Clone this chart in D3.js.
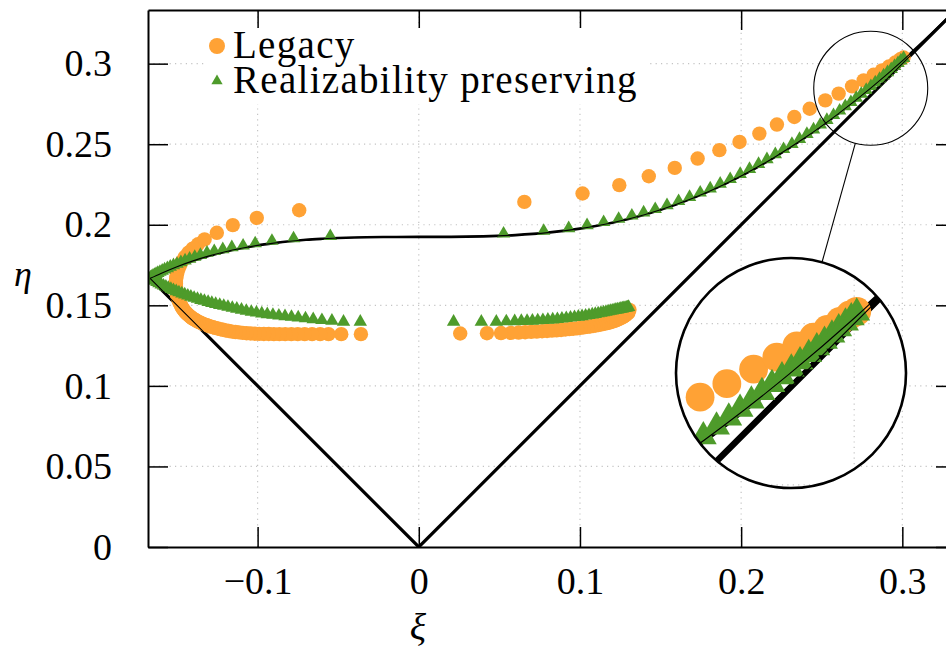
<!DOCTYPE html>
<html>
<head>
<meta charset="utf-8">
<script src="https://cdn.jsdelivr.net/npm/d3@7"></script>
<style>
  body { margin: 0; background: #fff; }
  svg { display: block; }
  svg text { font-family: "Liberation Serif", "Times New Roman", "DejaVu Serif", serif; }
</style>
</head>
<body>
<svg id="chart" width="946" height="658"></svg>
<script>
// Tick values
const xTicks = [-0.1, 0, 0.1, 0.2, 0.3];
const yTicks = [0, 0.05, 0.1, 0.15, 0.2, 0.25, 0.3];

// Lumley triangle straight edges (xi, eta)
const lumleyEdges = [[-0.1667, 0.1667], [0, 0], [0.3333, 0.3333]];

// Two-component limit curve (xi, eta)
const boundary = [
  [-0.1667, 0.1667], [-0.16, 0.1698], [-0.15, 0.1740], [-0.14, 0.1776], [-0.13, 0.1807],
  [-0.12, 0.1833], [-0.11, 0.1854], [-0.10, 0.1872], [-0.09, 0.1886], [-0.08, 0.1898],
  [-0.07, 0.1907], [-0.06, 0.1913], [-0.04, 0.1921], [-0.02, 0.1924], [0, 0.1925],
  [0.02, 0.1925], [0.04, 0.1928], [0.06, 0.1936], [0.08, 0.1951], [0.10, 0.1976],
  [0.12, 0.2012], [0.14, 0.2062], [0.16, 0.2127], [0.18, 0.2207], [0.20, 0.2303],
  [0.22, 0.2415], [0.24, 0.2543], [0.26, 0.2687], [0.28, 0.2845], [0.30, 0.3017],
  [0.32, 0.3203], [0.3333, 0.3333]
];

// Legacy series
const legacyLower = [
  [0.1307, 0.1472], [0.1300, 0.1453], [0.1292, 0.1446], [0.1283, 0.1439], [0.1274, 0.1433],
  [0.1265, 0.1427], [0.1256, 0.1422], [0.1246, 0.1417], [0.1236, 0.1412], [0.1226, 0.1408],
  [0.1215, 0.1404], [0.1204, 0.1400], [0.1193, 0.1397], [0.1181, 0.1393], [0.1169, 0.1390],
  [0.1156, 0.1387], [0.1143, 0.1384], [0.1129, 0.1381], [0.1114, 0.1378], [0.1098, 0.1375],
  [0.1081, 0.1372], [0.1063, 0.1369], [0.1044, 0.1366], [0.1024, 0.1363], [0.1003, 0.1360],
  [0.0981, 0.1357], [0.0958, 0.1355], [0.0934, 0.1352], [0.0909, 0.1350], [0.0883, 0.1347],
  [0.0855, 0.1345], [0.0826, 0.1343], [0.0796, 0.1341], [0.0765, 0.1339], [0.0732, 0.1337],
  [0.0697, 0.1335], [0.0660, 0.1333], [0.0620, 0.1331], [0.0572, 0.1329], [0.0510, 0.1328],
  [0.0423, 0.1327], [0.0257, 0.1325]
];
const legacyLeft = [
  [-0.0359, 0.1321], [-0.0481, 0.1321], [-0.0560, 0.1321], [-0.0612, 0.1321], [-0.0662, 0.1321],
  [-0.0708, 0.1321], [-0.0751, 0.1321], [-0.0791, 0.1321], [-0.0829, 0.1321], [-0.0865, 0.1321],
  [-0.0899, 0.1321], [-0.0931, 0.1322], [-0.0961, 0.1322], [-0.0990, 0.1323], [-0.1017, 0.1324],
  [-0.1043, 0.1325], [-0.1068, 0.1327], [-0.1092, 0.1329], [-0.1115, 0.1332], [-0.1137, 0.1334],
  [-0.1158, 0.1337], [-0.1178, 0.1341], [-0.1197, 0.1344], [-0.1215, 0.1348], [-0.1232, 0.1352],
  [-0.1248, 0.1356], [-0.1263, 0.1360], [-0.1277, 0.1364], [-0.1290, 0.1368], [-0.1303, 0.1372],
  [-0.1315, 0.1376], [-0.1327, 0.1380], [-0.1338, 0.1385], [-0.1349, 0.1389], [-0.1359, 0.1394],
  [-0.1369, 0.1399], [-0.1378, 0.1404], [-0.1387, 0.1409], [-0.1396, 0.1414], [-0.1404, 0.1419],
  [-0.1412, 0.1425], [-0.1419, 0.1431], [-0.1426, 0.1437], [-0.1433, 0.1443], [-0.1439, 0.1449],
  [-0.1445, 0.1455], [-0.1451, 0.1461], [-0.1456, 0.1468], [-0.1461, 0.1475], [-0.1466, 0.1482],
  [-0.1470, 0.1489], [-0.1474, 0.1497], [-0.1478, 0.1505], [-0.1482, 0.1513], [-0.1486, 0.1521],
  [-0.1489, 0.1530], [-0.1492, 0.1539], [-0.1495, 0.1548], [-0.1498, 0.1557], [-0.1500, 0.1567],
  [-0.1502, 0.1577], [-0.1504, 0.1587], [-0.1505, 0.1597], [-0.1506, 0.1607], [-0.1507, 0.1617],
  [-0.1507, 0.1627], [-0.1507, 0.1637], [-0.1507, 0.1647], [-0.1505, 0.1667], [-0.1502, 0.1687],
  [-0.1497, 0.1707], [-0.1490, 0.1728], [-0.1481, 0.1750], [-0.1470, 0.1772], [-0.1452, 0.1800],
  [-0.1430, 0.1826], [-0.1404, 0.1851], [-0.1370, 0.1879], [-0.1329, 0.1909], [-0.1253, 0.1950],
  [-0.1154, 0.1998], [-0.1005, 0.2043], [-0.0742, 0.2090]
];
const legacyUpper = [
  [0.0655, 0.2142], [0.1016, 0.2194], [0.1244, 0.2246], [0.1427, 0.2301], [0.1588, 0.2353],
  [0.1730, 0.2411], [0.1865, 0.2463], [0.1990, 0.2514], [0.2113, 0.2566], [0.2222, 0.2622],
  [0.2330, 0.2669], [0.2425, 0.2720], [0.2522, 0.2772], [0.2605, 0.2814], [0.2688, 0.2859],
  [0.2760, 0.2896], [0.2822, 0.2931], [0.2874, 0.2958], [0.2917, 0.2982], [0.2956, 0.3007],
  [0.2987, 0.3027], [0.3008, 0.3038]
];

// Realizability preserving series
const realizLower = [
  [0.1302, 0.1489], [0.1295, 0.1487], [0.1288, 0.1485], [0.1280, 0.1484], [0.1272, 0.1482],
  [0.1263, 0.1480], [0.1254, 0.1478], [0.1244, 0.1476], [0.1234, 0.1474], [0.1223, 0.1472],
  [0.1212, 0.1470], [0.1200, 0.1467], [0.1188, 0.1465], [0.1175, 0.1462], [0.1161, 0.1459],
  [0.1146, 0.1456], [0.1130, 0.1453], [0.1113, 0.1450], [0.1095, 0.1446], [0.1076, 0.1443],
  [0.1056, 0.1439], [0.1035, 0.1436], [0.1013, 0.1432], [0.0990, 0.1429], [0.0966, 0.1426],
  [0.0941, 0.1423], [0.0915, 0.1420], [0.0888, 0.1417], [0.0860, 0.1414], [0.0831, 0.1412],
  [0.0801, 0.1410], [0.0770, 0.1408], [0.0738, 0.1406], [0.0705, 0.1404], [0.0672, 0.1403],
  [0.0636, 0.1402], [0.0595, 0.1401], [0.0543, 0.1400], [0.0481, 0.1398], [0.0388, 0.1398],
  [0.0216, 0.1398]
];
const realizLeft = [
  [-0.0363, 0.1398], [-0.0467, 0.1398], [-0.0539, 0.1404], [-0.0601, 0.1408], [-0.0655, 0.1413],
  [-0.0703, 0.1419], [-0.0748, 0.1424], [-0.0790, 0.1428], [-0.0830, 0.1432], [-0.0868, 0.1436],
  [-0.0905, 0.1440], [-0.0940, 0.1444], [-0.0974, 0.1449], [-0.1007, 0.1454], [-0.1039, 0.1459],
  [-0.1070, 0.1465], [-0.1100, 0.1472], [-0.1129, 0.1478], [-0.1157, 0.1484], [-0.1184, 0.1490],
  [-0.1210, 0.1496], [-0.1235, 0.1502], [-0.1260, 0.1508], [-0.1284, 0.1514], [-0.1307, 0.1520],
  [-0.1330, 0.1527], [-0.1352, 0.1533], [-0.1373, 0.1540], [-0.1394, 0.1546], [-0.1414, 0.1553],
  [-0.1433, 0.1560], [-0.1452, 0.1567], [-0.1470, 0.1573], [-0.1488, 0.1580], [-0.1505, 0.1587],
  [-0.1522, 0.1594], [-0.1538, 0.1601], [-0.1554, 0.1608], [-0.1569, 0.1615], [-0.1584, 0.1622],
  [-0.1598, 0.1629], [-0.1612, 0.1637], [-0.1625, 0.1644], [-0.1638, 0.1651], [-0.1650, 0.1658],
  [-0.1662, 0.1664], [-0.1667, 0.1667],
  [-0.1664, 0.1672], [-0.1657, 0.1678], [-0.1649, 0.1683], [-0.1640, 0.1688], [-0.1630, 0.1694],
  [-0.1619, 0.1700], [-0.1606, 0.1707], [-0.1592, 0.1714], [-0.1577, 0.1722], [-0.1560, 0.1730],
  [-0.1542, 0.1739], [-0.1522, 0.1748], [-0.1500, 0.1757], [-0.1476, 0.1767], [-0.1450, 0.1778],
  [-0.1422, 0.1789], [-0.1390, 0.1800], [-0.1355, 0.1812], [-0.1314, 0.1826], [-0.1269, 0.1836],
  [-0.1216, 0.1848], [-0.1160, 0.1860], [-0.1090, 0.1870], [-0.1015, 0.1884], [-0.0911, 0.1900],
  [-0.0777, 0.1915], [-0.0549, 0.1929]
];
const realizUpper = [
  [0.0526, 0.1945], [0.0775, 0.1962], [0.0930, 0.1978], [0.1044, 0.1997], [0.1147, 0.2016],
  [0.1240, 0.2036], [0.1322, 0.2056], [0.1395, 0.2076], [0.1467, 0.2097], [0.1540, 0.2121],
  [0.1612, 0.2146], [0.1680, 0.2172], [0.1746, 0.2199], [0.1808, 0.2225], [0.1870, 0.2254],
  [0.1932, 0.2283], [0.1994, 0.2315], [0.2052, 0.2346], [0.2108, 0.2377], [0.2160, 0.2406],
  [0.2212, 0.2437], [0.2263, 0.2469], [0.2315, 0.2501], [0.2362, 0.2532], [0.2408, 0.2563],
  [0.2449, 0.2591], [0.2491, 0.2621], [0.2532, 0.2650], [0.2573, 0.2680], [0.2611, 0.2708],
  [0.2646, 0.2735], [0.2681, 0.2761], [0.2714, 0.2787], [0.2745, 0.2812], [0.2776, 0.2836],
  [0.2805, 0.2860], [0.2832, 0.2883], [0.2859, 0.2905], [0.2884, 0.2926], [0.2908, 0.2946],
  [0.2931, 0.2966], [0.2952, 0.2985], [0.2973, 0.3003], [0.2991, 0.3019], [0.3008, 0.3034]
];

const legacy = legacyLower.concat(legacyLeft, legacyUpper);
const realiz = realizLower.concat(realizLeft, realizUpper);

const ORANGE = "#ffa235";
const GREEN = "#4e9b2b";
const SERIF = "'Liberation Serif', 'Times New Roman', 'DejaVu Serif', serif";

const svg = d3.select("#chart");
const x = d3.scaleLinear().domain([-0.168, 0.3333]).range([148, 956]);
const y = d3.scaleLinear().domain([0, 0.3333]).range([547, 10]);

// zoom geometry (small circle in plot, big inset circle)
const zoomC = { cx: x(0.2804), cy: y(0.2847), r: 57 };
const inset = { cx: 791, cy: 373, r: 115, k: 2 };

const defs = svg.append("defs");
defs.append("clipPath").attr("id", "plotClip")
  .append("rect").attr("x", 148).attr("y", 10).attr("width", 808).attr("height", 537);
defs.append("clipPath").attr("id", "insetClip")
  .append("circle").attr("cx", inset.cx).attr("cy", inset.cy).attr("r", inset.r);

const lineGen = d3.line().x(d => x(d[0])).y(d => y(d[1]));
const curveGen = d3.line().x(d => x(d[0])).y(d => y(d[1])).curve(d3.curveMonotoneX);
const tri = d3.symbol(d3.symbolTriangle).size(78)();

// draws grid, lines and markers; s = visual magnification
function drawPlot(g, s) {
  g.append("g").selectAll("line").data(xTicks).join("line")
    .attr("x1", d => x(d)).attr("x2", d => x(d))
    .attr("y1", y(0)).attr("y2", y(0.3333))
    .attr("stroke", "#c4c4c4").attr("stroke-width", 1.2 / s)
    .attr("stroke-dasharray", `${1.2 / s} ${4.2 / s}`);
  g.append("g").selectAll("line").data(yTicks.slice(1)).join("line")
    .attr("x1", x(-0.168)).attr("x2", x(0.3333))
    .attr("y1", d => y(d)).attr("y2", d => y(d))
    .attr("stroke", "#c4c4c4").attr("stroke-width", 1.2 / s)
    .attr("stroke-dasharray", `${1.2 / s} ${4.2 / s}`);

  g.append("path").datum(lumleyEdges).attr("d", lineGen)
    .attr("fill", "none").attr("stroke", "#000").attr("stroke-width", 3.2);
  g.append("path").datum(boundary).attr("d", curveGen)
    .attr("fill", "none").attr("stroke", "#000").attr("stroke-width", 2.6);

  g.append("g").selectAll("circle").data(legacy).join("circle")
    .attr("cx", d => x(d[0])).attr("cy", d => y(d[1])).attr("r", 7.2)
    .attr("fill", ORANGE);
  g.append("g").selectAll("path").data(realiz).join("path")
    .attr("d", tri)
    .attr("transform", d => `translate(${x(d[0])},${y(d[1])})`)
    .attr("fill", GREEN);

  g.append("path").datum(lumleyEdges).attr("d", lineGen)
    .attr("fill", "none").attr("stroke", "#000").attr("stroke-width", 1.1 / s);
  g.append("path").datum(boundary).attr("d", curveGen)
    .attr("fill", "none").attr("stroke", "#000").attr("stroke-width", 1.1 / s);
}

const main = svg.append("g").attr("clip-path", "url(#plotClip)");
drawPlot(main, 1);

// axes
const fmt = d3.format("~g");
function styleAxis(g, fs) {
  g.attr("font-family", null).attr("font-size", fs);
  g.select(".domain").attr("stroke-width", 2);
  g.selectAll(".tick line").attr("stroke-width", 1.5);
  g.selectAll(".tick text").attr("fill", "#000").style("font-family", SERIF);
}
svg.append("g").attr("transform", "translate(0,547)")
  .call(d3.axisBottom(x).tickValues(xTicks).tickFormat(fmt).tickSize(-20).tickSizeOuter(0).tickPadding(20))
  .call(g => styleAxis(g, 38));
svg.append("g").attr("transform", "translate(0,10)")
  .call(d3.axisTop(x).tickValues(xTicks).tickFormat("").tickSize(-20).tickSizeOuter(0))
  .call(g => styleAxis(g, 38));
svg.append("g").attr("transform", "translate(148,0)")
  .call(d3.axisLeft(y).tickValues(yTicks).tickFormat(fmt).tickSize(-20).tickSizeOuter(0).tickPadding(36))
  .call(g => styleAxis(g, 38));
svg.append("g").attr("transform", "translate(956,0)")
  .call(d3.axisRight(y).tickValues(yTicks).tickFormat("").tickSize(-20).tickSizeOuter(0))
  .call(g => styleAxis(g, 38));

// axis titles
svg.append("text").attr("x", 23).attr("y", 286).attr("text-anchor", "middle")
  .style("font-family", SERIF).attr("font-style", "italic")
  .attr("font-size", 36).text("η");
svg.append("text").attr("x", 418).attr("y", 640).attr("text-anchor", "middle")
  .style("font-family", SERIF).attr("font-style", "italic")
  .attr("font-size", 38).text("ξ");

// legend
const legend = svg.append("g");
legend.append("rect").attr("x", 205).attr("y", 28).attr("width", 445).attr("height", 76).attr("fill", "#fff");
legend.append("circle").attr("cx", 217).attr("cy", 46).attr("r", 8).attr("fill", ORANGE);
legend.append("path").attr("d", d3.symbol(d3.symbolTriangle).size(55)())
  .attr("transform", "translate(217,81)").attr("fill", GREEN);
legend.selectAll("text").data(["Legacy", "Realizability preserving"]).join("text")
  .attr("x", 233).attr("y", (d, i) => 58 + i * 35)
  .style("font-family", SERIF).attr("font-size", 39)
  .attr("letter-spacing", 1.3)
  .attr("fill", "#000").text(d => d);

// zoom marker circle and connector
svg.append("circle").attr("cx", zoomC.cx).attr("cy", zoomC.cy).attr("r", zoomC.r)
  .attr("fill", "none").attr("stroke", "#000").attr("stroke-width", 1.1);
const dx = inset.cx - zoomC.cx, dy = inset.cy - zoomC.cy;
const len = Math.hypot(dx, dy);
svg.append("line")
  .attr("x1", zoomC.cx + dx / len * zoomC.r).attr("y1", zoomC.cy + dy / len * zoomC.r)
  .attr("x2", inset.cx - dx / len * inset.r).attr("y2", inset.cy - dy / len * inset.r)
  .attr("stroke", "#000").attr("stroke-width", 1.1);

// inset
svg.append("circle").attr("cx", inset.cx).attr("cy", inset.cy).attr("r", inset.r).attr("fill", "#fff");
const insetG = svg.append("g").attr("clip-path", "url(#insetClip)")
  .append("g")
  .attr("transform", `translate(${inset.cx},${inset.cy}) scale(${inset.k}) translate(${-zoomC.cx},${-zoomC.cy})`);
drawPlot(insetG, inset.k);
svg.append("circle").attr("cx", inset.cx).attr("cy", inset.cy).attr("r", inset.r)
  .attr("fill", "none").attr("stroke", "#000").attr("stroke-width", 2.6);
</script>
</body>
</html>
